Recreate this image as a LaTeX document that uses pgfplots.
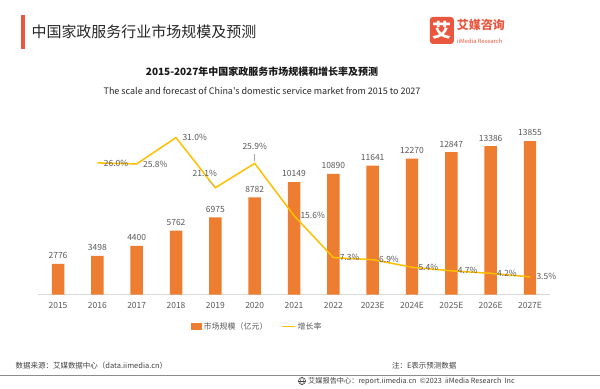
\documentclass[border=0pt]{standalone}
\usepackage{fontspec}
\setmainfont{Noto Sans CJK SC}
\newfontfamily\plainfont{Noto Sans CJK SC}
\usepackage{pgfplots}
\pgfplotsset{compat=1.18}
\definecolor{barc}{HTML}{ED7D31}
\definecolor{linec}{HTML}{FFC000}
\definecolor{lab}{HTML}{595959}
\definecolor{logo}{HTML}{E9573F}
\definecolor{foot}{HTML}{404040}
\begin{document}
\begin{tikzpicture}[x=1pt,y=1pt]
\fill[white] (0,0) rectangle (600,-389);
% header
\fill[logo] (21,-15) rectangle (25,-49);
\node[anchor=west,inner sep=0pt,font=\fontsize{15}{18}\selectfont,text=black!85] at (31,-32) {中国家政服务行业市场规模及预测};
\fill[logo,rounded corners=3pt] (430,-17) rectangle (454,-44);
\node[text=white,font=\fontsize{19}{20}\selectfont\bfseries,inner sep=0pt] at (442,-30.5) {艾};
\node[anchor=west,inner sep=0pt,text=logo,font=\fontsize{12}{13}\selectfont\bfseries] at (457,-25) {艾媒咨询};
\node[anchor=west,inner sep=0pt,text=logo,font=\fontsize{5.8}{7}\selectfont] at (457,-41.5) {iiMedia Research};
% chart titles
\node[font=\fontsize{10}{12}\selectfont\bfseries,text=black!90,inner sep=0pt] at (262,-72) {2015-2027年中国家政服务市场规模和增长率及预测};
\node[font=\fontsize{9}{11}\plainfont\selectfont,text=black!85,inner sep=0pt] at (262,-91) {The scale and forecast of China's domestic service market from 2015 to 2027};
% bars
\begin{axis}[
  at={(38pt,-295pt)}, anchor=south west,
  scale only axis, width=512pt, height=175pt,
  xmin=-0.5, xmax=12.5, ymin=0, ymax=15766,
  axis y line=none, axis x line*=bottom,
  x axis line style={draw=black!15,-},
  xtick={0,...,12},
  xticklabels={2015,2016,2017,2018,2019,2020,2021,2022,2023E,2024E,2025E,2026E,2027E},
  major tick length=0pt,
  xticklabel style={font=\fontsize{8.5}{10}\selectfont, text=lab, yshift=-4pt},
  ybar, bar width=12.5pt,
  /pgf/number format/1000 sep={},
  /pgf/number format/assume math mode=true,
  nodes near coords,
  every node near coord/.append style={font=\fontsize{8.5}{10}\selectfont, text=lab, yshift=1.5pt},
  legend style={at={(0.428,-0.183)}, anchor=center, draw=none, fill=none,
    legend columns=2, font=\fontsize{8}{10}\selectfont, text=lab,
    /tikz/every even column/.append style={column sep=12pt}},
]
\addplot[fill=barc, draw=none,
  legend image code/.code={\fill[barc] (0pt,-3.5pt) rectangle (11pt,3.5pt);}]
  coordinates {(0,2776)(1,3498)(2,4400)(3,5762)(4,6975)(5,8782)(6,10149)(7,10890)(8,11641)(9,12270)(10,12847)(11,13386)(12,13855)};
\addlegendentry{市场规模（亿元）}
\addlegendimage{legend image code/.code={\draw[linec,line width=1.2pt] (0pt,0pt) -- (13pt,0pt);}}
\addlegendentry{增长率}
\end{axis}
% line
\begin{axis}[
  at={(38pt,-295pt)}, anchor=south west,
  scale only axis, width=512pt, height=175pt,
  xmin=-0.5, xmax=12.5, ymin=0, ymax=34.5,
  hide axis, clip=false,
  /pgf/number format/assume math mode=true,
  every node near coord/.append style={font=\fontsize{8.5}{10}\selectfont, text=lab},
]
\addplot[linec, line width=1.5pt, mark=none]
  coordinates {(1,26.0)(2,25.8)(3,31.0)(4,21.1)(5,25.9)(6,15.6)(7,7.3)(8,6.9)(9,5.4)(10,4.7)(11,4.2)(12,3.5)};
\addplot[draw=none, mark=none,
  nodes near coords={\pgfmathprintnumber[fixed,fixed zerofill,precision=1]{\pgfplotspointmeta}\%},
  every node near coord/.append style={anchor=west, xshift=3pt}]
  coordinates {(1,26.0)(2,25.8)(3,31.0)(6,15.6)(7,7.3)(8,6.9)(9,5.4)(10,4.7)(11,4.2)(12,3.5)};
\addplot[draw=none, mark=none,
  nodes near coords={\pgfmathprintnumber[fixed,fixed zerofill,precision=1]{\pgfplotspointmeta}\%},
  every node near coord/.append style={anchor=south, xshift=-10.5pt, yshift=8pt}]
  coordinates {(4,21.1)};
\addplot[draw=none, mark=none,
  nodes near coords={\pgfmathprintnumber[fixed,fixed zerofill,precision=1]{\pgfplotspointmeta}\%},
  every node near coord/.append style={anchor=south, yshift=10pt}]
  coordinates {(5,25.9)};
\draw[black!35, line width=0.4pt] (axis cs:3.82,22.6) -- (axis cs:3.97,21.4);
\draw[black!35, line width=0.4pt] (axis cs:5,27.7) -- (axis cs:5,26.3);
\end{axis}
% footer
\node[anchor=west,inner sep=0pt,font=\fontsize{7.5}{9}\selectfont,text=foot] at (15,-366) {数据来源：艾媒数据中心（data.iimedia.cn）};
\node[anchor=west,inner sep=0pt,font=\fontsize{7.5}{9}\selectfont,text=foot] at (392,-366) {注：E表示预测数据};
\draw[black!45, line width=0.8pt] (0,-375.5) -- (600,-375.5);
\draw[foot, line width=0.5pt] (302,-381.5) circle (3.6);
\draw[foot, line width=0.4pt] (302,-381.5) ellipse (1.5 and 3.6);
\draw[foot, line width=0.4pt] (298.4,-381.5) -- (305.6,-381.5);
\node[anchor=west,inner sep=0pt,font=\fontsize{7.2}{9}\selectfont,text=foot] at (308,-381.5) {艾媒报告中心：report.iimedia.cn\ \ ©2023\ \ iiMedia Research\ \ Inc};
\end{tikzpicture}
\end{document}
